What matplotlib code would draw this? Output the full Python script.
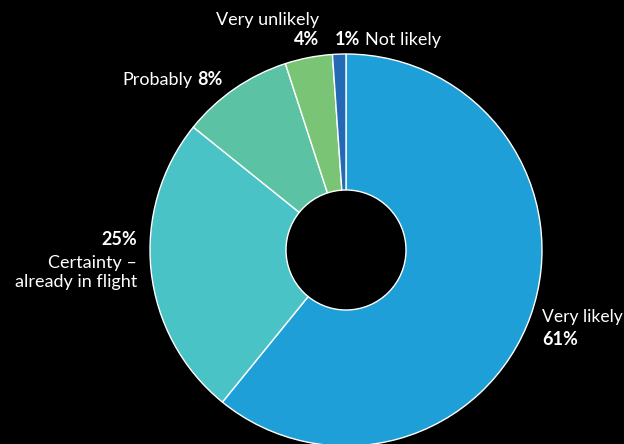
import matplotlib
matplotlib.use("Agg")
import matplotlib.pyplot as plt
from matplotlib.patches import Circle

categories = ["Very likely", "Certainty – already in flight", "Probably", "Very unlikely", "Not likely"]
values = [60.8, 24.9, 9.2, 3.9, 1.1]
pct_labels = ["61%", "25%", "8%", "4%", "1%"]
colors = ["#1F9FD7", "#4AC3C7", "#5BC3A4", "#7AC575", "#2369B5"]

W, H = 624, 444
fig = plt.figure(figsize=(W / 100, H / 100), dpi=100, facecolor="black")
ax = fig.add_axes([0, 0, 1, 1])
ax.set_facecolor("black")

cx, cy, R = 346, H - 250, 196
ax.pie(values, colors=colors, startangle=90, counterclock=False,
       center=(cx, cy), radius=R, frame=True,
       wedgeprops=dict(edgecolor="white", linewidth=1.0))
ax.add_patch(Circle((cx, cy), 60, facecolor="black", edgecolor="white", linewidth=1.0, zorder=5))
ax.set_xlim(0, W)
ax.set_ylim(0, H)
ax.set_aspect("equal")
ax.axis("off")

FONT = "Lato"
FS = 13
col = "white"

def t(x, ypx, s, bold=False, ha="left", fs=FS):
    return ax.text(x, H - ypx, s, color=col, fontsize=fs, family=FONT,
                   fontweight="bold" if bold else "normal", ha=ha, va="baseline")

fig.canvas.draw()
r = fig.canvas.get_renderer()

def width(txt):
    return txt.get_window_extent(r).width

# Very unlikely / 4%
t(319, 25, categories[3], ha="right")
t(319, 45, pct_labels[3], bold=True, ha="right")

# 1% Not likely
a = t(335, 45, pct_labels[4], bold=True)
t(335 + width(a) + 5, 45, categories[4])

# Probably 8%
b = t(223, 85, pct_labels[2], bold=True, ha="right")
t(223 - width(b) - 5, 85, categories[2], ha="right")

# 25% Certainty – already in flight
t(137, 245, pct_labels[1], bold=True, ha="right")
t(137, 268, "Certainty –", ha="right")
t(137, 287, "already in flight", ha="right")

# Very likely 61%
t(542, 322, categories[0], fs=12.6)
t(542, 345, pct_labels[0], bold=True)

fig.savefig("out.png", dpi=100, facecolor="black")
